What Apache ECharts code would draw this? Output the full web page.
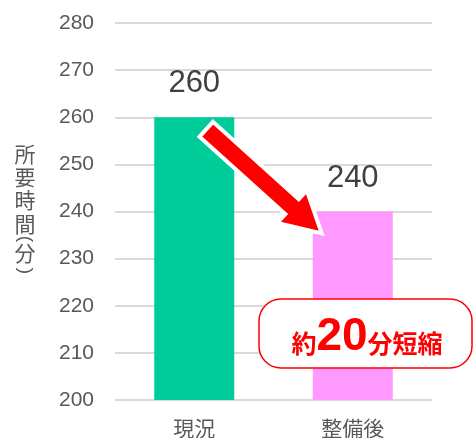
<!DOCTYPE html>
<html>
<head>
<meta charset="utf-8">
<script src="https://cdn.jsdelivr.net/npm/echarts@6/dist/echarts.min.js"></script>
<style>
  html, body { margin: 0; padding: 0; background: #fff; }
  #main { width: 473px; height: 438px; }
</style>
</head>
<body>
<div id="main"></div>
<script>
// データ
const categories = ['現況', '整備後'];
const values = [260, 240];
const barColors = ['#00CC99', '#FF99FF'];
const yMin = 200, yMax = 280, yStep = 10;
const yNameMain = '所要時間';
const yNameUnit = '分';
const calloutLead = '約', calloutNum = '20', calloutTail = '分短縮';

const font = '"Liberation Sans", Arial, "Noto Sans CJK JP", sans-serif';
const cjk = '"Noto Sans CJK JP", sans-serif';
const chart = echarts.init(document.getElementById('main'));

const option = {
  animation: false,
  grid: { left: 115, right: 41, top: 23, bottom: 38, outerBoundsMode: 'none' },
  xAxis: {
    type: 'category',
    data: categories,
    axisLine: { show: false },
    axisTick: { show: false },
    axisLabel: { color: '#595959', fontSize: 21, margin: 18, fontFamily: cjk }
  },
  yAxis: {
    type: 'value',
    min: yMin, max: yMax, interval: yStep,
    axisLabel: { color: '#595959', fontSize: 21, margin: 21, fontFamily: font },
    splitLine: { lineStyle: { color: '#D9D9D9', width: 2 } },
    axisLine: { show: false },
    axisTick: { show: false }
  },
  series: [{
    type: 'bar',
    barWidth: 80,
    data: values.map((v, i) => ({ value: v, itemStyle: { color: barColors[i] } })),
    label: {
      show: true, position: 'top', distance: 18,
      color: '#404040', fontSize: 31, fontFamily: font
    }
  }]
};
chart.setOption(option);

// 矢印と吹き出し（バーの位置から計算）
function arrowPoints(x0, y0, x1, y1, shaftW, headW, headL) {
  const dx = x1 - x0, dy = y1 - y0;
  const len = Math.sqrt(dx * dx + dy * dy);
  const ux = dx / len, uy = dy / len, nx = -uy, ny = ux;
  const bx = x1 - ux * headL, by = y1 - uy * headL;
  const p = (x, y, s) => [x + nx * s, y + ny * s];
  return [
    p(x0, y0, shaftW / 2), p(bx, by, shaftW / 2), p(bx, by, headW / 2),
    [x1, y1],
    p(bx, by, -headW / 2), p(bx, by, -shaftW / 2), p(x0, y0, -shaftW / 2)
  ];
}

const a = chart.convertToPixel({ seriesIndex: 0 }, [0, values[0]]);
const b = chart.convertToPixel({ seriesIndex: 0 }, [1, values[1]]);
const start = [a[0] + 12, a[1] + 12];
const tip = [b[0] - 31, b[1] + 22];
const pts = arrowPoints(start[0], start[1], tip[0], tip[1], 20, 44, 40);

// 縦書きの軸名
const nameX = 25;
const nameStyle = { fill: '#595959', fontSize: 21, fontFamily: cjk, align: 'center', verticalAlign: 'middle' };
const nameGraphics = yNameMain.split('').map((c, i) => ({
  type: 'text', x: nameX, y: 154 + i * 23.2, style: Object.assign({ text: c }, nameStyle)
}));
nameGraphics.push(
  { type: 'text', x: nameX, y: 239, rotation: -Math.PI / 2,
    style: Object.assign({}, nameStyle, { text: '(', fontFamily: font, fontSize: 19 }) },
  { type: 'text', x: nameX, y: 253, style: Object.assign({ text: yNameUnit }, nameStyle) },
  { type: 'text', x: nameX, y: 271, rotation: -Math.PI / 2,
    style: Object.assign({}, nameStyle, { text: ')', fontFamily: font, fontSize: 19 }) }
);

chart.setOption({
  graphic: nameGraphics.concat([
    {
      type: 'polygon',
      shape: { points: pts },
      style: { fill: '#FF0000', stroke: '#FFFFFF', lineWidth: 4, lineJoin: 'miter' },
      z: 100
    },
    {
      type: 'rect',
      shape: { x: 259, y: 299, width: 213, height: 69, r: 22 },
      style: { fill: '#FFFFFF', stroke: '#FF0000', lineWidth: 1.5 },
      z: 100
    },
    {
      type: 'text',
      x: 367, y: 337,
      style: {
        text: '{s|' + calloutLead + '}{n|' + calloutNum + '}{s|' + calloutTail + '}',
        align: 'center', verticalAlign: 'middle',
        fill: '#FF0000',
        rich: {
          s: { fontSize: 25, fontWeight: 'bold', fill: '#FF0000', fontFamily: cjk, verticalAlign: 'bottom', padding: [0, 0, 4, 0] },
          n: { fontSize: 46, fontWeight: 'bold', fill: '#FF0000', fontFamily: font, verticalAlign: 'bottom' }
        }
      },
      z: 101
    }
  ])
});
</script>
</body>
</html>
